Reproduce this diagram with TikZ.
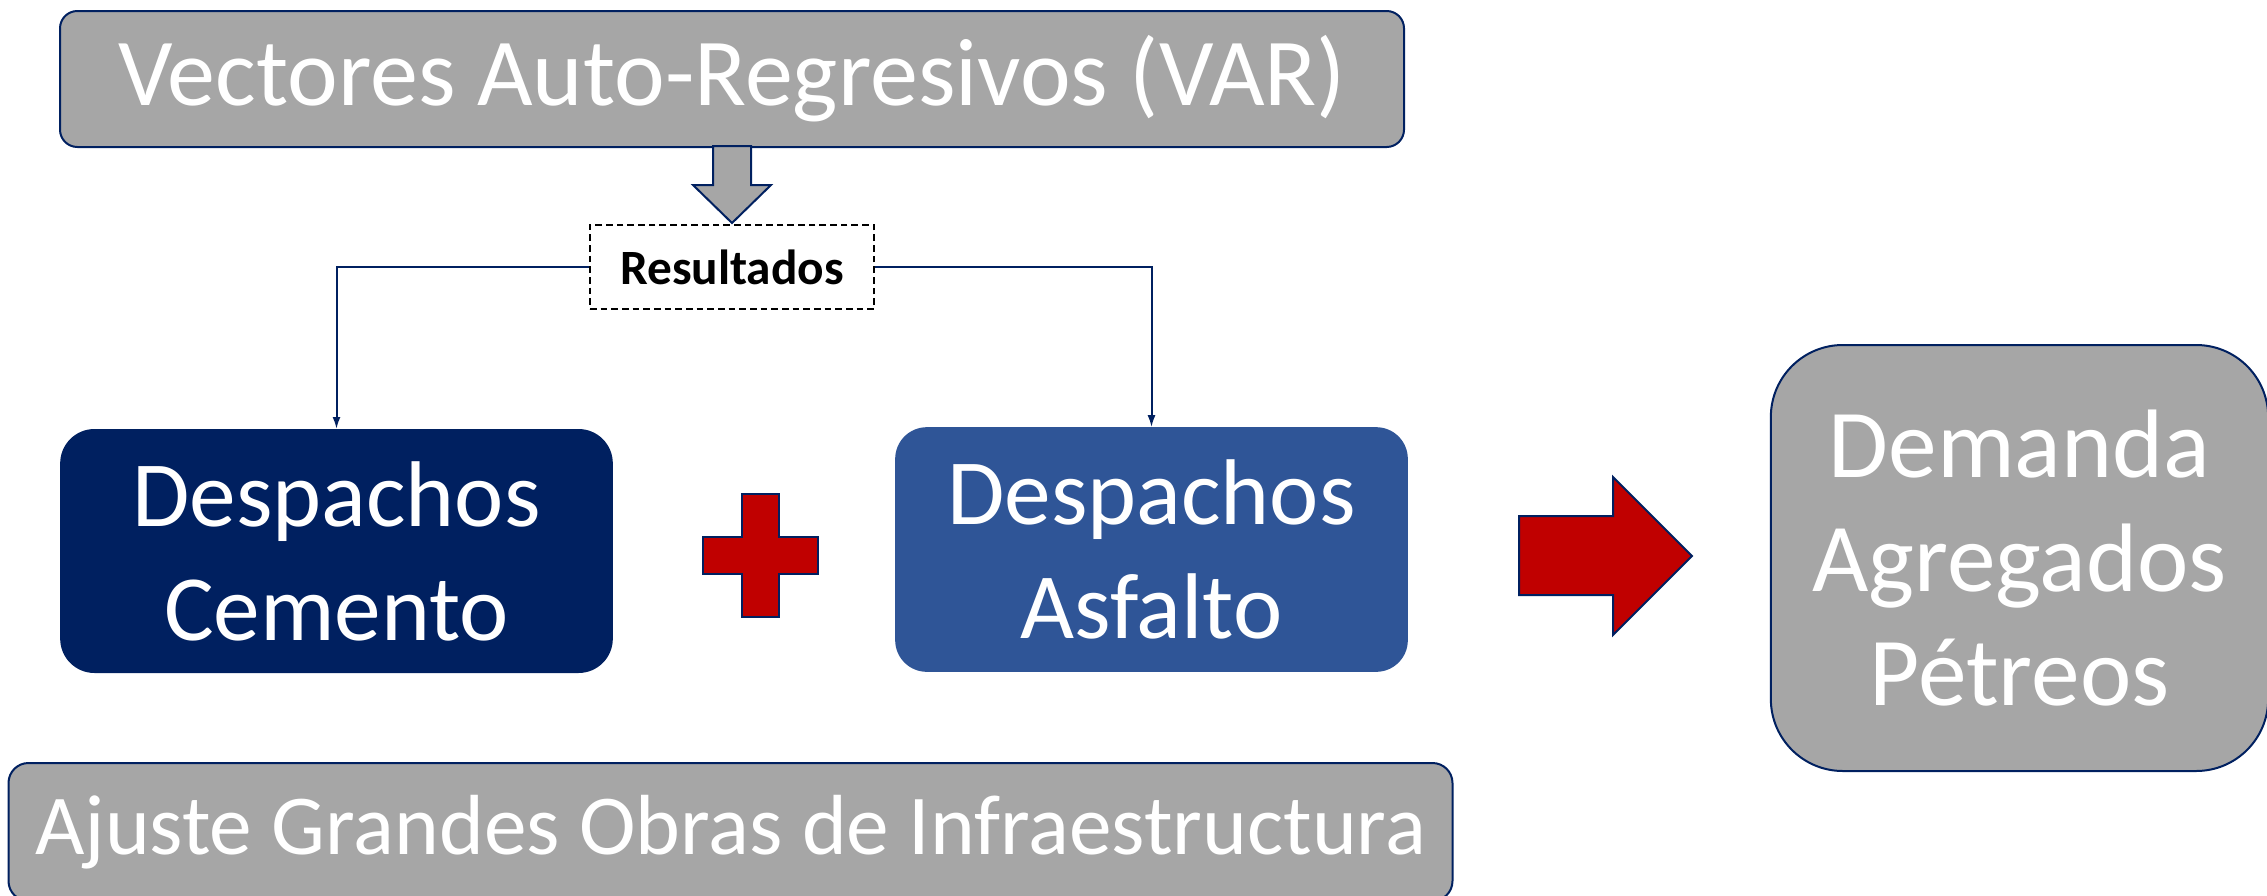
\documentclass[tikz,border=0pt]{standalone}
\usepackage{fontspec}
\setmainfont{Carlito}
\usetikzlibrary{arrows.meta}

\definecolor{navy}{RGB}{0,32,96}
\definecolor{grisfill}{RGB}{166,166,166}
\definecolor{azulfill}{RGB}{47,85,151}
\definecolor{rojofill}{RGB}{192,0,0}

\tikzset{every picture/.style={line width=0.75pt}}
\tikzset{
  grisbox/.style={draw=navy, line width=1.5pt, fill=grisfill, text=white, align=center, inner sep=0pt},
  despbox/.style={line width=1.5pt, text=white, align=center, inner sep=0pt},
  conector/.style={draw=navy, line width=1.5pt, -{Latex[length=9pt,width=6pt]}},
  bloque/.style={draw=navy, line width=1.5pt, line join=miter},
}

\begin{document}
\begin{tikzpicture}[x=0.75pt,y=0.75pt,yscale=-1,xscale=1]
\useasboundingbox (0,0) rectangle (2267,896);

% Text Node
\node [grisbox, rounded corners=13pt, minimum width=1008pt, minimum height=102pt, font=\fontsize{72}{86}\selectfont] (var) at (732,79) {Vectores Auto-Regresivos (VAR)};
% Text Node
\node [draw=black, dash pattern={on 5pt off 3pt}, line width=1.5pt, minimum width=213pt, minimum height=63pt, inner sep=0pt, font=\fontsize{37}{44}\bfseries] (res) at (732,267) {Resultados};
% Text Node
\node [despbox, draw=navy, fill=navy, rounded corners=25pt, minimum width=413pt, minimum height=181.5pt, font=\fontsize{70}{85.5}\selectfont] (cem) at (336.5,551) {Despachos\\Cemento};
% Text Node
\node [despbox, draw=azulfill, fill=azulfill, rounded corners=23pt, minimum width=383pt, minimum height=182pt, font=\fontsize{70}{85.5}\selectfont] (asf) at (1151.5,549.5) {Despachos\\Asfalto};
% Text Node
\node [grisbox, rounded corners=54pt, minimum width=373pt, minimum height=319.5pt, font=\fontsize{73}{85.5}\selectfont] (dem) at (2019.5,558) {Demanda\\Agregados\\Pétreos};
% Text Node
\node [grisbox, rounded corners=15pt, minimum width=1083pt, minimum height=103.5pt, font=\fontsize{64}{77}\selectfont] (aju) at (730.5,832) {Ajuste Grandes Obras de Infraestructura};

%Shape: Down Arrow
\draw [bloque, fill=grisfill] (713,146) -- (751,146) -- (751,185) -- (771,185) -- (732,223) -- (693,185) -- (713,185) -- cycle ;

%Straight Lines
\draw [conector] (res.west) -| (cem.north) ;
\draw [conector] (res.east) -| (asf.north) ;

%Shape: Plus
\draw [bloque, fill=rojofill] (742,494) -- (779,494) -- (779,537) -- (818,537) -- (818,574) -- (779,574) -- (779,617) -- (742,617) -- (742,574) -- (703,574) -- (703,537) -- (742,537) -- cycle ;

%Shape: Right Arrow
\draw [bloque, fill=rojofill] (1519,516) -- (1613,516) -- (1613,477) -- (1692,556) -- (1613,635) -- (1613,595) -- (1519,595) -- cycle ;

\end{tikzpicture}
\end{document}
